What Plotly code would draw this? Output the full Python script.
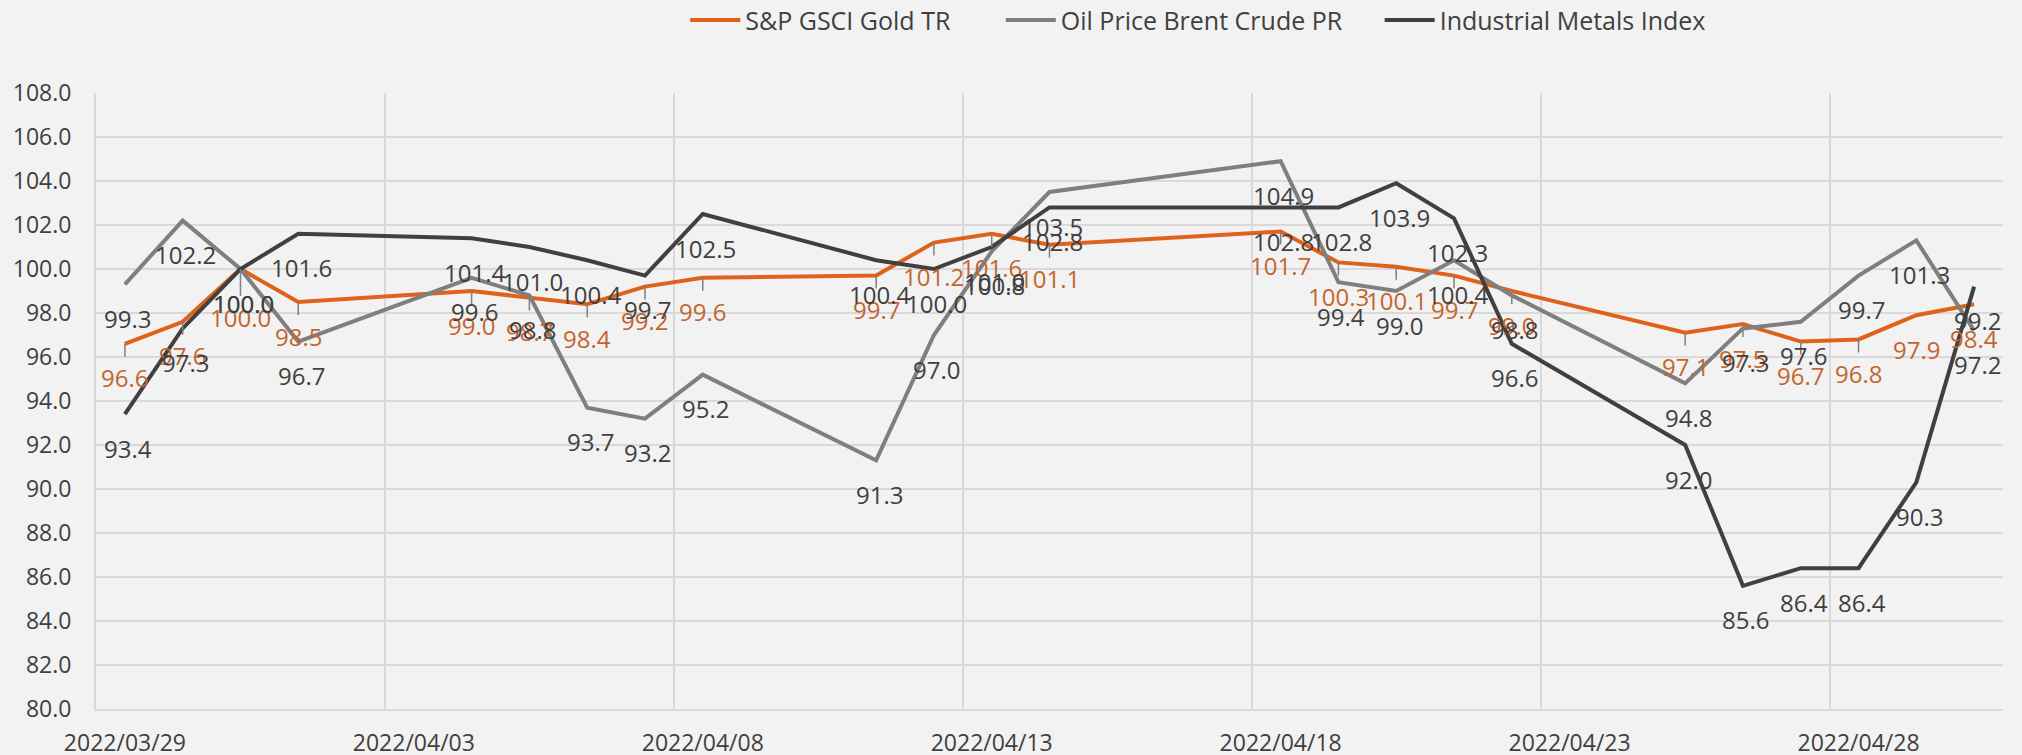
import plotly.graph_objects as go
import pandas as pd

dates = ["2022-03-29", "2022-03-30", "2022-03-31", "2022-04-01", "2022-04-04",
         "2022-04-05", "2022-04-06", "2022-04-07", "2022-04-08", "2022-04-11",
         "2022-04-12", "2022-04-13", "2022-04-14", "2022-04-18", "2022-04-19",
         "2022-04-20", "2022-04-21", "2022-04-22", "2022-04-25", "2022-04-26",
         "2022-04-27", "2022-04-28", "2022-04-29", "2022-04-30"]

gold = [96.6, 97.6, 100.0, 98.5, 99.0, 98.7, 98.4, 99.2, 99.6, 99.7, 101.2, 101.6,
        101.1, 101.7, 100.3, 100.1, 99.7, 99.0, 97.1, 97.5, 96.7, 96.8, 97.9, 98.4]
brent = [99.3, 102.2, 100.0, 96.7, 99.6, 98.8, 93.7, 93.2, 95.2, 91.3, 97.0, 100.8,
         103.5, 104.9, 99.4, 99.0, 100.4, 98.8, 94.8, 97.3, 97.6, 99.7, 101.3, 97.2]
metals = [93.4, 97.3, 100.0, 101.6, 101.4, 101.0, 100.4, 99.7, 102.5, 100.4, 100.0, 101.0,
          102.8, 102.8, 102.8, 103.9, 102.3, 96.6, 92.0, 85.6, 86.4, 86.4, 90.3, 99.2]

series_names = ["S&P GSCI Gold TR", "Oil Price Brent Crude PR", "Industrial Metals Index"]
x_tick_dates = ["2022-03-29", "2022-04-03", "2022-04-08", "2022-04-13",
                "2022-04-18", "2022-04-23", "2022-04-28"]
y_ticks = [80 + 2 * i for i in range(15)]

# styling
BG = "#F2F2F2"
GRID = "#D9D9D9"
TXT = "#404040"
FONT = "Open Sans"
LBL_SIZE = 24
line_colors = ["#E0621A", "#7F7F7F", "#404040"]
label_colors = ["#C4652E", "#404040", "#404040"]
legend_pad = ["\u00a0" * 7, "\u00a0" * 5, ""]

fig = go.Figure()
for name, vals, col, pad in zip(series_names, [gold, brent, metals], line_colors, legend_pad):
    fig.add_trace(go.Scatter(x=dates, y=vals, mode="lines", name=name + pad,
                             line=dict(color=col, width=4)))

# data labels
LABEL_DY = 34
no_leader_gold = {"2022-04-29", "2022-04-30"}
gold_extra_dy = {"2022-03-31": 14}
annotations = []
for i, d in enumerate(dates):
    v = gold[i]
    dy = LABEL_DY + gold_extra_dy.get(d, 0)
    if d in no_leader_gold:
        annotations.append(dict(x=d, y=v, xref="x", yref="y", text=f"{v:.1f}",
                                showarrow=False, yshift=-dy,
                                font=dict(family=FONT, size=LBL_SIZE, color=label_colors[0])))
    else:
        annotations.append(dict(x=d, y=v, xref="x", yref="y", text=f"{v:.1f}",
                                showarrow=True, ax=0, ay=dy, arrowhead=0,
                                arrowwidth=1.5, arrowcolor="#808080", standoff=0,
                                borderpad=4,
                                font=dict(family=FONT, size=LBL_SIZE, color=label_colors[0])))
for vals, lc in [(brent, label_colors[1]), (metals, label_colors[2])]:
    for d, v in zip(dates, vals):
        annotations.append(dict(x=d, y=v, xref="x", yref="y", text=f"{v:.1f}",
                                showarrow=False, yshift=-LABEL_DY, xshift=3,
                                font=dict(family=FONT, size=LBL_SIZE, color=lc)))

grid_lines = pd.date_range("2022-03-28 12:00", periods=7, freq="5D")

fig.update_layout(
    template="none",
    width=2022, height=755,
    paper_bgcolor=BG, plot_bgcolor=BG,
    margin=dict(l=96, r=19, t=93, b=46, autoexpand=False),
    font=dict(family=FONT, size=23, color=TXT),
    showlegend=True,
    legend=dict(orientation="h", x=0.309, xanchor="left", y=1.118, yanchor="middle",
                font=dict(family=FONT, size=25, color=TXT), bgcolor="rgba(0,0,0,0)",
                itemwidth=50),
    annotations=annotations,
    xaxis=dict(
        type="date",
        range=["2022-03-28 12:00", "2022-04-30 12:00"],
        tickmode="array", tickvals=x_tick_dates, tickformat="%Y/%m/%d",
        showgrid=False, zeroline=False, ticks="", automargin=False,
        ticklabelstandoff=12,
        tickfont=dict(family=FONT, size=23, color=TXT),
        showline=True, linecolor=GRID, linewidth=2,
        minor=dict(tickmode="array", tickvals=list(grid_lines), showgrid=True,
                   gridcolor=GRID, gridwidth=2, ticks=""),
    ),
    yaxis=dict(
        range=[80, 108], tickmode="array", tickvals=y_ticks, tickformat=".1f",
        showgrid=True, gridcolor=GRID, gridwidth=2, zeroline=False, ticks="",
        automargin=False, ticklabelstandoff=18,
        tickfont=dict(family=FONT, size=23, color=TXT),
        showline=True, linecolor=GRID, linewidth=2,
    ),
)

fig.write_html(
    "out.html",
    config={"displayModeBar": False},
    post_script="document.body.style.margin='0';"
                "document.body.style.background='#F2F2F2';"
                "document.body.style.overflow='hidden';",
)
